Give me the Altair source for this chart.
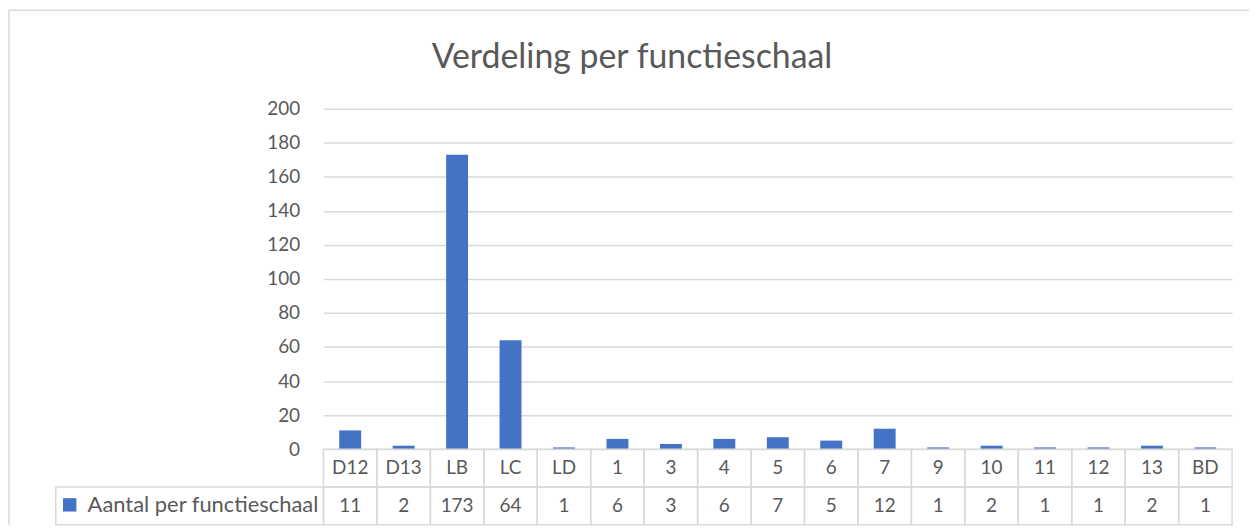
import altair as alt
import pandas as pd

categories = ["D12", "D13", "LB", "LC", "LD", "1", "3", "4", "5", "6", "7", "9", "10", "11", "12", "13", "BD"]
values = [11, 2, 173, 64, 1, 6, 3, 6, 7, 5, 12, 1, 2, 1, 1, 2, 1]
series_name = "Aantal per functieschaal"
title_text = "Verdeling per functieschaal"
y_ticks = [0, 20, 40, 60, 80, 100, 120, 140, 160, 180, 200]

FONT = "Lato"
TXT = "#595959"
GRID = "#d9d9d9"
BLUE = "#4472c4"

W = 913
H_BAR = 342
H_TAB = 76

bars_df = pd.DataFrame({"cat": categories, "val": values})
one = pd.DataFrame({"k": [0]})

rows = []
for c, v in zip(categories, values):
    rows.append({"cat": c, "row": "h", "label": c})
    rows.append({"cat": c, "row": "v", "label": str(v)})
table_df = pd.DataFrame(rows)

xb = alt.X("cat:N", sort=categories, axis=None,
           scale=alt.Scale(paddingInner=0.59, paddingOuter=0.295))

bars = alt.Chart(bars_df).mark_bar(color=BLUE).encode(
    x=xb,
    y=alt.Y("val:Q", scale=alt.Scale(domain=[0, 200]),
            axis=alt.Axis(values=y_ticks, grid=True, gridColor=GRID, gridWidth=1.5,
                          domain=False, ticks=False, labelPadding=24,
                          labelFont=FONT, labelFontSize=19, labelColor=TXT, title=None)),
)

frame_top = alt.Chart(one).mark_rule(color=GRID, strokeWidth=1.5).encode(
    x=alt.value(-316), x2=alt.value(930), y=alt.value(-99))
frame_left = alt.Chart(one).mark_rule(color=GRID, strokeWidth=1.5).encode(
    x=alt.value(-316), y=alt.value(-99), y2=alt.value(418))
title = alt.Chart(one).mark_text(font=FONT, fontSize=34, color=TXT, align="center",
                                 baseline="alphabetic", text=title_text).encode(
    x=alt.value(310), y=alt.value(-41))

top = alt.layer(frame_top, frame_left, bars, title).properties(width=W, height=H_BAR)

xt = alt.X("cat:N", sort=categories, axis=None,
           scale=alt.Scale(paddingInner=0, paddingOuter=0))
yt = alt.Y("row:N", sort=["h", "v"], axis=None,
           scale=alt.Scale(paddingInner=0, paddingOuter=0))

cells = alt.Chart(table_df).mark_rect(fillOpacity=0, stroke=GRID, strokeWidth=1.5).encode(
    x=xt, y=yt)
cell_text = alt.Chart(table_df).mark_text(font=FONT, fontSize=19, color=TXT,
                                          baseline="middle").encode(
    x=xt, y=yt, text="label:N")

leg_box = alt.Chart(one).mark_rect(fillOpacity=0, stroke=GRID, strokeWidth=1.5).encode(
    x=alt.value(-269), x2=alt.value(0), y=alt.value(38), y2=alt.value(76))
leg_sym = alt.Chart(one).mark_point(shape="square", filled=True, color=BLUE,
                                    size=180, opacity=1).encode(
    x=alt.value(-255), y=alt.value(56))
leg_txt = alt.Chart(one).mark_text(font=FONT, fontSize=22, color=TXT, align="left",
                                   baseline="alphabetic", text=series_name).encode(
    x=alt.value(-237), y=alt.value(63))

table = alt.layer(cells, cell_text, leg_box, leg_sym, leg_txt).properties(width=W, height=H_TAB)

chart = alt.vconcat(top, table, spacing=0, bounds="flush").properties(
    padding=0, background="white"
).configure_view(stroke=None)

chart.save("out.html", embed_options={"renderer": "svg", "actions": False})
